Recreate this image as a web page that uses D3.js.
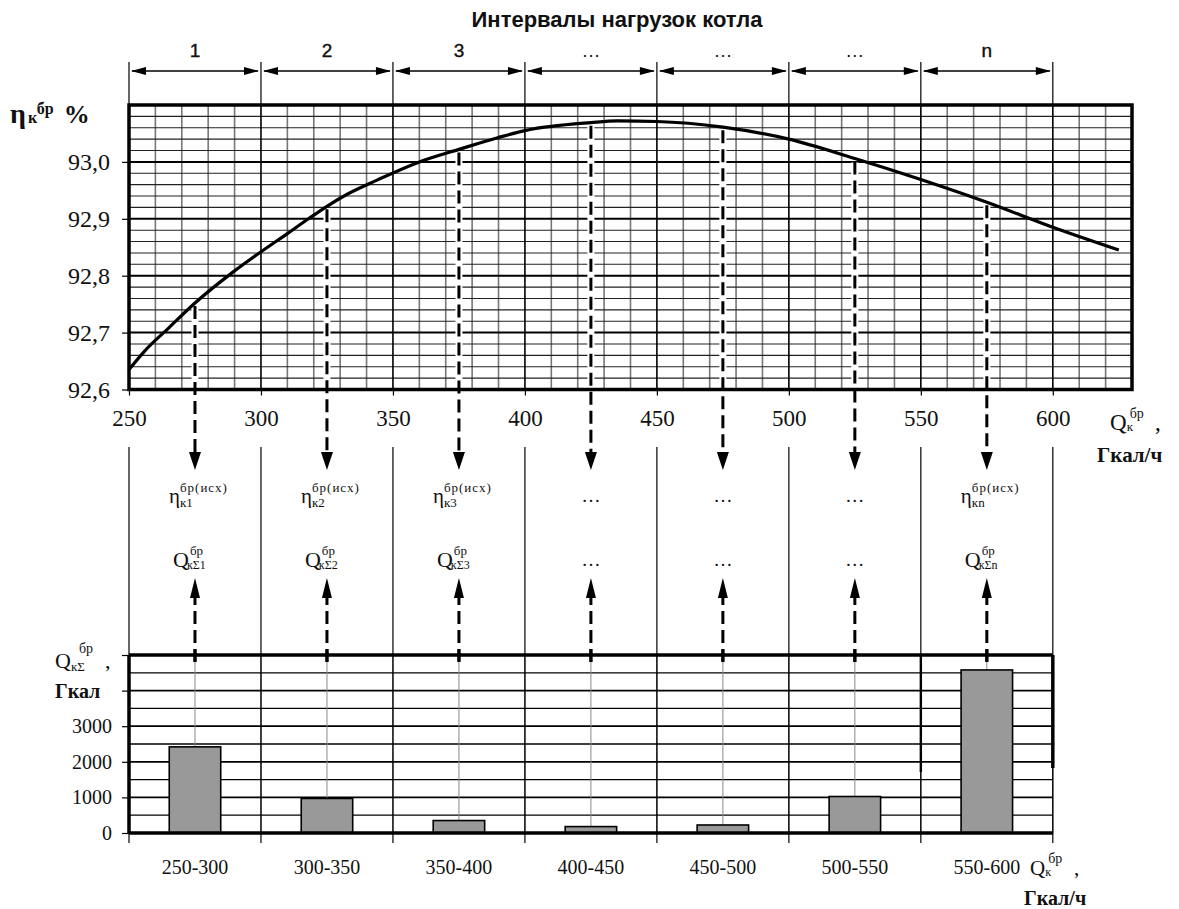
<!DOCTYPE html>
<html><head><meta charset="utf-8">
<script src="https://cdn.jsdelivr.net/npm/d3@7"></script>
<style>body{margin:0;background:#fff} svg{display:block}</style>
</head><body><svg id="c" width="1179" height="909"></svg>
<script>
// ---------- data ----------
const intervalNames = ["1","2","3","…","…","…","n"];
const intervalEdges = [250,300,350,400,450,500,550,600];
const intervalMids = [275,325,375,425,475,525,575];
const loadQ = [250,256,265,275,289,300,310,318,325,333,344,360,375,390,400,425,435,450,475,500,525,550,575,600,625];
const efficiency = [92.635,92.668,92.708,92.752,92.805,92.842,92.874,92.9,92.922,92.944,92.968,93.0,93.022,93.043,93.055,93.069,93.072,93.071,93.061,93.04,93.006,92.969,92.929,92.885,92.845];
const etaTicks = [92.6,92.7,92.8,92.9,93.0];
const loadTicks = [250,300,350,400,450,500,550,600];
const rangeLabels = ["250-300","300-350","350-400","400-450","450-500","500-550","550-600"];
const heatTotals = [2420,970,350,180,225,1025,4580];
const heatTicks = [0,1000,2000,3000,4000,5000];
const heatTickLabels = ["0","1000","2000","3000","",""];
const etaSubs = ["к1","к2","к3",null,null,null,"кn"];
const heatSubs = ["кΣ1","кΣ2","кΣ3",null,null,null,"кΣn"];

// ---------- setup ----------
const svg = d3.select("#c");
const serif = "'Liberation Serif','Times New Roman',serif";
const sans = "'Liberation Sans',Arial,sans-serif";

const x = d3.scaleLinear().domain([250,630]).range([129,1132]);
const y = d3.scaleLinear().domain([92.6,93.1]).range([389.5,105]);
const band = d3.scaleBand().domain(rangeLabels).range([x(250),x(600)]).padding(0);
const y2 = d3.scaleLinear().domain([0,5000]).range([833,655]);
const effAt = q => efficiency[loadQ.indexOf(q)];

// ---------- title & interval dimension arrows ----------
svg.append("text").attr("x",617).attr("y",27).attr("text-anchor","middle")
  .attr("font-family",sans).attr("font-size",22).attr("font-weight","bold").attr("fill","#111")
  .text("Интервалы нагрузок котла");

const arrowY = 71;
intervalEdges.forEach(e => {
  svg.append("line").attr("x1",x(e)).attr("x2",x(e)).attr("y1",62).attr("y2",105)
    .attr("stroke","#000").attr("stroke-width",1.2);
});
intervalNames.forEach((n,i) => {
  const a = x(intervalEdges[i]), b = x(intervalEdges[i+1]);
  svg.append("line").attr("x1",a+3).attr("x2",b-3).attr("y1",arrowY).attr("y2",arrowY)
    .attr("stroke","#000").attr("stroke-width",1.5);
  svg.append("path").attr("d",`M${a+2},${arrowY} L${a+17},${arrowY-4} L${a+17},${arrowY+4} Z`).attr("fill","#000");
  svg.append("path").attr("d",`M${b-2},${arrowY} L${b-17},${arrowY-4} L${b-17},${arrowY+4} Z`).attr("fill","#000");
  svg.append("text").attr("x",(a+b)/2).attr("y",57).attr("text-anchor","middle")
    .attr("font-family",sans).attr("font-size",19).attr("fill","#111")
    .attr("stroke","#111").attr("stroke-width",n==="…"?0:0.4).text(n);
});

// ---------- top chart grid ----------
const gridTop = svg.append("g");
x.ticks(38).filter(v => v%50!==0).forEach(v => {
  gridTop.append("line").attr("x1",x(v)).attr("x2",x(v)).attr("y1",105).attr("y2",389.5)
    .attr("stroke","#777").attr("stroke-width",1.6);
});
y.ticks(25).filter(v => Math.abs(Math.round(v*10)-v*10)>1e-6).forEach(v => {
  gridTop.append("line").attr("x1",129).attr("x2",1132).attr("y1",y(v)).attr("y2",y(v))
    .attr("stroke","#222").attr("stroke-width",1.1);
});
loadTicks.forEach(v => {
  gridTop.append("line").attr("x1",x(v)).attr("x2",x(v)).attr("y1",105).attr("y2",389.5)
    .attr("stroke","#000").attr("stroke-width",1.6);
});
etaTicks.forEach(v => {
  gridTop.append("line").attr("x1",129).attr("x2",1132).attr("y1",y(v)).attr("y2",y(v))
    .attr("stroke","#000").attr("stroke-width",2);
});

// dashed drop lines (white halo cuts grid)
intervalMids.forEach(m => {
  svg.append("line").attr("x1",x(m)).attr("x2",x(m)).attr("y1",y(effAt(m))+4).attr("y2",389)
    .attr("stroke","#fff").attr("stroke-width",7);
});

// frame
svg.append("rect").attr("x",129).attr("y",105).attr("width",1132-129).attr("height",389.5-105)
  .attr("fill","none").attr("stroke","#000").attr("stroke-width",3.5);

// curve
const line = d3.line().x((d,i)=>x(loadQ[i])).y(d=>y(d)).curve(d3.curveMonotoneX);
svg.append("path").attr("d",line(efficiency)).attr("fill","none")
  .attr("stroke","#000").attr("stroke-width",3.2).attr("stroke-linejoin","round");

// axes top
const axL = svg.append("g").attr("transform","translate(129,0)")
  .call(d3.axisLeft(y).tickValues(etaTicks).tickSize(7).tickPadding(12)
    .tickFormat(d => d3.format(".1f")(d).replace(".",",")));
axL.select(".domain").remove();
axL.selectAll("text").attr("font-family",serif).attr("font-size",24).attr("fill","#111");
axL.selectAll("line").attr("stroke","#000").attr("stroke-width",1.2);

const axB = svg.append("g").attr("transform","translate(0,389.5)")
  .call(d3.axisBottom(x).tickValues(loadTicks).tickSize(6).tickPadding(14));
axB.select(".domain").remove();
axB.selectAll("text").attr("font-family",serif).attr("font-size",23).attr("fill","#111");
axB.selectAll("line").attr("stroke","#000").attr("stroke-width",1.2);

// axis titles top
const tl = svg.append("text").attr("font-family",serif).attr("font-weight","bold").attr("fill","#111");
tl.append("tspan").attr("x",10).attr("y",123).attr("font-size",28).text("η");
tl.append("tspan").attr("font-size",16).attr("dx",2).text("к");
tl.append("tspan").attr("font-size",16).attr("dy",-9).text("бр");
tl.append("tspan").attr("font-size",26).attr("dy",9).attr("dx",10).text("%");

function subsup(xx, yy, main, sub, sup, o) {
  const t = svg.append("text").attr("x",xx).attr("y",yy).attr("font-family",serif)
    .attr("font-size",o.fs).attr("font-weight",o.bold?"bold":"normal").attr("fill","#111").text(main);
  const w = t.node().getComputedTextLength();
  if (sup) svg.append("text").attr("x",xx+w+(o.supDx||0)).attr("y",yy+o.supDy).attr("font-family",serif)
    .attr("font-size",o.sfs).attr("letter-spacing",o.ls||0).attr("font-weight",o.bold?"bold":"normal").attr("fill","#111").text(sup);
  if (sub) svg.append("text").attr("x",xx+w+(o.subDx||0)).attr("y",yy+o.subDy).attr("font-family",serif)
    .attr("font-size",o.bfs).attr("font-weight",o.bold?"bold":"normal").attr("fill","#111").text(sub);
  return w;
}
subsup(1110,430,"Q","к","бр",{fs:23,sfs:14,bfs:13,supDy:-12,subDy:1,supDx:3});
svg.append("text").attr("x",1155).attr("y",430).attr("font-family",serif).attr("font-size",23).text(",");
svg.append("text").attr("x",1097).attr("y",462).attr("font-family",serif).attr("font-size",21)
  .attr("font-weight","bold").attr("fill","#111").text("Гкал/ч");

// ---------- middle connectors ----------
intervalEdges.forEach(e => {
  svg.append("line").attr("x1",x(e)).attr("x2",x(e)).attr("y1",447).attr("y2",655)
    .attr("stroke","#000").attr("stroke-width",1.2);
});
intervalMids.forEach((m,i) => {
  const xm = x(m);
  svg.append("line").attr("x1",xm).attr("x2",xm).attr("y1",y(effAt(m))+3).attr("y2",455)
    .attr("stroke","#000").attr("stroke-width",3).attr("stroke-dasharray","13,6");
  svg.append("path").attr("d",`M${xm},470 L${xm-6},452 L${xm+6},452 Z`).attr("fill","#000");
  svg.append("line").attr("x1",xm).attr("x2",xm).attr("y1",662).attr("y2",596)
    .attr("stroke","#000").attr("stroke-width",3).attr("stroke-dasharray","13,6");
  svg.append("path").attr("d",`M${xm},578 L${xm-5},598 L${xm+5},598 Z`).attr("fill","#000");
  if (etaSubs[i]) {
    subsup(xm-26,503,"η",etaSubs[i],"бр(исх)",{fs:21,sfs:13,bfs:13,supDy:-11,subDy:4,ls:1});
    subsup(xm-22,567,"Q",heatSubs[i],"бр",{fs:22,sfs:13,bfs:12,supDy:-12,subDy:2,supDx:1,subDx:-2});
  } else {
    [502,566].forEach(yy => svg.append("text").attr("x",xm).attr("y",yy).attr("text-anchor","middle")
      .attr("font-family",serif).attr("font-size",19).attr("fill","#111").text("…"));
  }
});

// ---------- bottom chart ----------
const gb = svg.append("g");
y2.ticks(10).forEach(v => {
  gb.append("line").attr("x1",x(250)).attr("x2",x(600)).attr("y1",y2(v)).attr("y2",y2(v))
    .attr("stroke","#000").attr("stroke-width",v%1000===0?1.8:1.3);
});
intervalEdges.forEach(e => {
  gb.append("line").attr("x1",x(e)).attr("x2",x(e)).attr("y1",655).attr("y2",833)
    .attr("stroke","#000").attr("stroke-width",1.5);
});
const bw = band.bandwidth()*0.39;
rangeLabels.forEach((r,i) => {
  const cx = band(r)+band.bandwidth()/2;
  gb.append("line").attr("x1",cx).attr("x2",cx).attr("y1",655).attr("y2",y2(heatTotals[i]))
    .attr("stroke","#888").attr("stroke-width",1);
});
gb.selectAll("rect.bar").data(heatTotals).join("rect").attr("class","bar")
  .attr("x",(d,i)=>band(rangeLabels[i])+band.bandwidth()/2-bw/2).attr("width",bw)
  .attr("y",d=>y2(d)).attr("height",d=>y2(0)-y2(d))
  .attr("fill","#999").attr("stroke","#000").attr("stroke-width",1.6);
gb.append("line").attr("x1",x(250)).attr("x2",x(600)).attr("y1",655).attr("y2",655).attr("stroke","#000").attr("stroke-width",3.5);
gb.append("line").attr("x1",x(250)).attr("x2",x(600)).attr("y1",833).attr("y2",833).attr("stroke","#000").attr("stroke-width",3.5);
gb.append("line").attr("x1",x(250)).attr("x2",x(250)).attr("y1",655).attr("y2",833).attr("stroke","#000").attr("stroke-width",3.5);
gb.append("line").attr("x1",x(600)).attr("x2",x(600)).attr("y1",655).attr("y2",768).attr("stroke","#000").attr("stroke-width",3.5);
gb.append("line").attr("x1",x(550)).attr("x2",x(550)).attr("y1",655).attr("y2",772).attr("stroke","#000").attr("stroke-width",2.4);
intervalMids.forEach(m => {
  svg.append("line").attr("x1",x(m)).attr("x2",x(m)).attr("y1",662).attr("y2",645)
    .attr("stroke","#000").attr("stroke-width",3).attr("stroke-dasharray","13,6");
});

const axL2 = svg.append("g").attr("transform",`translate(${x(250)},0)`)
  .call(d3.axisLeft(y2).tickValues(heatTicks).tickSize(7).tickPadding(10).tickFormat((d,i)=>heatTickLabels[i]));
axL2.select(".domain").remove();
axL2.selectAll("text").attr("font-family",serif).attr("font-size",20).attr("fill","#111");
axL2.selectAll("line").attr("stroke","#000").attr("stroke-width",1.2);

const axB2 = svg.append("g").attr("transform","translate(0,833)")
  .call(d3.axisBottom(band).tickSize(0).tickPadding(27));
axB2.select(".domain").remove();
axB2.selectAll("text").attr("font-family",serif).attr("font-size",20).attr("fill","#111");
intervalEdges.forEach(e => {
  svg.append("line").attr("x1",x(e)).attr("x2",x(e)).attr("y1",833).attr("y2",843).attr("stroke","#000").attr("stroke-width",1.2);
});

subsup(55,668,"Q","кΣ","бр",{fs:22,sfs:14,bfs:13,supDy:-15,subDy:3,supDx:8});
svg.append("text").attr("x",105).attr("y",668).attr("font-family",serif).attr("font-size",22).text(",");
svg.append("text").attr("x",55).attr("y",698).attr("font-family",serif).attr("font-size",20)
  .attr("font-weight","bold").attr("fill","#111").text("Гкал");

subsup(1030,875,"Q","к","бр",{fs:21,sfs:14,bfs:12,supDy:-12,subDy:1,supDx:3});
svg.append("text").attr("x",1074).attr("y",875).attr("font-family",serif).attr("font-size",21).text(",");
svg.append("text").attr("x",1024).attr("y",905).attr("font-family",serif).attr("font-size",20)
  .attr("font-weight","bold").attr("fill","#111").text("Гкал/ч");
</script></body></html>
